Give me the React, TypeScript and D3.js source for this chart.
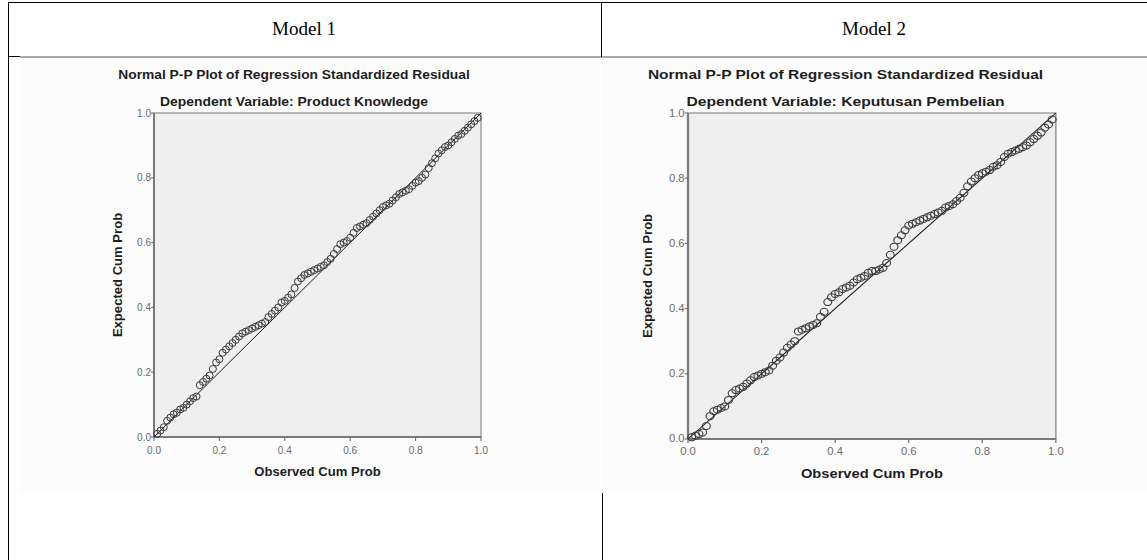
import * as d3 from 'd3';
import React from 'react';

const headers = ['Model 1', 'Model 2'];
const titles = ['Normal P-P Plot of Regression Standardized Residual', 'Normal P-P Plot of Regression Standardized Residual'];
const subtitles = ['Dependent Variable: Product Knowledge', 'Dependent Variable: Keputusan Pembelian'];
const tickValues = [0, 0.2, 0.4, 0.6, 0.8, 1.0];

// model 1 : observed vs expected cumulative prob
const obs1 = [0.01, 0.02, 0.03, 0.04, 0.05, 0.06, 0.07, 0.08, 0.09, 0.1, 0.11, 0.12, 0.13, 0.14, 0.15, 0.16, 0.17, 0.18, 0.19, 0.2,
  0.21, 0.22, 0.23, 0.24, 0.25, 0.26, 0.27, 0.28, 0.29, 0.3, 0.31, 0.32, 0.33, 0.34, 0.35, 0.36, 0.37, 0.38, 0.39, 0.4,
  0.41, 0.42, 0.43, 0.44, 0.45, 0.46, 0.47, 0.48, 0.49, 0.5, 0.51, 0.52, 0.53, 0.54, 0.55, 0.56, 0.57, 0.58, 0.59, 0.6,
  0.61, 0.62, 0.63, 0.64, 0.65, 0.66, 0.67, 0.68, 0.69, 0.7, 0.71, 0.72, 0.73, 0.74, 0.75, 0.76, 0.77, 0.78, 0.79, 0.8,
  0.81, 0.82, 0.83, 0.84, 0.85, 0.86, 0.87, 0.88, 0.89, 0.9, 0.91, 0.92, 0.93, 0.94, 0.95, 0.96, 0.97, 0.98, 0.99];
const exp1 = [0.01, 0.02, 0.03, 0.05, 0.06, 0.07, 0.075, 0.085, 0.09, 0.1, 0.11, 0.12, 0.125, 0.16, 0.17, 0.18, 0.19, 0.21, 0.23, 0.24,
  0.26, 0.27, 0.28, 0.29, 0.3, 0.31, 0.32, 0.325, 0.33, 0.335, 0.34, 0.345, 0.35, 0.355, 0.37, 0.38, 0.39, 0.4, 0.415, 0.42,
  0.43, 0.44, 0.46, 0.48, 0.49, 0.5, 0.505, 0.51, 0.515, 0.52, 0.525, 0.53, 0.54, 0.55, 0.565, 0.58, 0.595, 0.6, 0.605, 0.615,
  0.63, 0.645, 0.65, 0.655, 0.66, 0.67, 0.68, 0.69, 0.7, 0.71, 0.715, 0.72, 0.73, 0.74, 0.75, 0.755, 0.76, 0.765, 0.775, 0.785,
  0.79, 0.8, 0.81, 0.83, 0.845, 0.86, 0.875, 0.885, 0.895, 0.9, 0.91, 0.92, 0.93, 0.935, 0.945, 0.955, 0.965, 0.975, 0.985];

// model 2
const obs2 = [0.01, 0.02, 0.03, 0.04, 0.05, 0.06, 0.07, 0.08, 0.09, 0.1, 0.11, 0.12, 0.13, 0.14, 0.15, 0.16, 0.17, 0.18, 0.19, 0.2,
  0.21, 0.22, 0.23, 0.24, 0.25, 0.26, 0.27, 0.28, 0.29, 0.3, 0.31, 0.32, 0.33, 0.34, 0.35, 0.36, 0.37, 0.38, 0.39, 0.4,
  0.41, 0.42, 0.43, 0.44, 0.45, 0.46, 0.47, 0.48, 0.49, 0.5, 0.51, 0.52, 0.53, 0.54, 0.55, 0.56, 0.57, 0.58, 0.59, 0.6,
  0.61, 0.62, 0.63, 0.64, 0.65, 0.66, 0.67, 0.68, 0.69, 0.7, 0.71, 0.72, 0.73, 0.74, 0.75, 0.76, 0.77, 0.78, 0.79, 0.8,
  0.81, 0.82, 0.83, 0.84, 0.85, 0.86, 0.87, 0.88, 0.89, 0.9, 0.91, 0.92, 0.93, 0.94, 0.95, 0.96, 0.97, 0.98, 0.99];
const exp2 = [0.005, 0.01, 0.015, 0.02, 0.04, 0.07, 0.085, 0.09, 0.095, 0.1, 0.12, 0.14, 0.15, 0.155, 0.16, 0.17, 0.18, 0.19, 0.195, 0.2,
  0.205, 0.21, 0.225, 0.24, 0.25, 0.265, 0.28, 0.29, 0.3, 0.33, 0.335, 0.34, 0.345, 0.35, 0.355, 0.375, 0.39, 0.42, 0.435, 0.445,
  0.45, 0.46, 0.465, 0.47, 0.48, 0.49, 0.495, 0.5, 0.51, 0.515, 0.515, 0.52, 0.525, 0.54, 0.565, 0.59, 0.61, 0.625, 0.64, 0.655,
  0.66, 0.665, 0.67, 0.675, 0.68, 0.685, 0.69, 0.695, 0.7, 0.71, 0.715, 0.72, 0.73, 0.74, 0.755, 0.775, 0.79, 0.8, 0.81, 0.815,
  0.82, 0.825, 0.835, 0.84, 0.85, 0.865, 0.875, 0.88, 0.885, 0.89, 0.895, 0.9, 0.91, 0.92, 0.93, 0.94, 0.955, 0.965, 0.98];

const font = '"Liberation Sans", Arial, sans-serif';

// bold label, a bit wider than plain Arial like the spss export
function Label({ x, y, k, children, rotate = 0 }) {
  return (
    <g transform={`translate(${x},${y}) rotate(${rotate}) scale(${k},1)`}>
      <text textAnchor="middle" fontSize={12} fontWeight="bold" fill="#1e1e1e">{children}</text>
    </g>
  );
}

function PPPlot({ left, top, height, sx, title, subtitle, obs, exp }) {
  const w = 327; // native width, right panel gets stretched by sx
  const x = d3.scaleLinear().domain([0, 1]).range([0, w]);
  const y = d3.scaleLinear().domain([0, 1]).range([height, 0]);
  const fmt = d3.format('.1f');
  const pts = obs.map((o, i) => [o, exp[i]]);

  return (
    <g transform={`translate(${left},${top}) scale(${sx},1)`} fontFamily={font}>
      <Label x={140} y={-34} k={1.15}>{title}</Label>
      <Label x={140} y={-7} k={1.16}>{subtitle}</Label>

      <rect x={0} y={0} width={w} height={height} fill="#efefef" stroke="#8c8c8c" strokeWidth={1.2} />
      <line x1={0} x2={0} y1={0} y2={height} stroke="#7a7a7a" strokeWidth={2} />
      <line x1={0} x2={w} y1={height} y2={height} stroke="#7a7a7a" strokeWidth={2} />

      {tickValues.map((t) => (
        <g key={'y' + t}>
          <line x1={-3} x2={0} y1={y(t)} y2={y(t)} stroke="#666" />
          <text x={-3} y={y(t) + 3.5} textAnchor="end" fontSize={10} fill="#6a6a6a">{fmt(t)}</text>
        </g>
      ))}
      {tickValues.map((t) => (
        <g key={'x' + t}>
          <line x1={x(t)} x2={x(t)} y1={height} y2={height + 4} stroke="#666" />
          <text x={x(t)} y={height + 16.5} textAnchor="middle" fontSize={10} fill="#6a6a6a">{fmt(t)}</text>
        </g>
      ))}

      <line x1={x(0)} y1={y(0)} x2={x(1)} y2={y(1)} stroke="#1a1a1a" strokeWidth={1} />
      {pts.map((p, i) => (
        <circle key={i} cx={x(p[0])} cy={y(p[1])} r={3.5} fill="none" stroke="#3a3a3a" strokeWidth={1} />
      ))}

      <Label x={w / 2} y={height + 39} k={1.09}>Observed Cum Prob</Label>
      <Label x={-32} y={height / 2} k={1.09} rotate={-90}>Expected Cum Prob</Label>
    </g>
  );
}

export default function App() {
  return (
    <svg width={1147} height={560} style={{ position: 'absolute', left: 0, top: 0, display: 'block' }}>
      <rect width={1147} height={560} fill="#fff" />
      {/* pasted images */}
      <rect x={20} y={57} width={580} height={436} fill="#fcfcfc" />
      <rect x={602} y={57} width={545} height={436} fill="#fcfcfc" />
      <line x1={20} x2={1147} y1={57} y2={57} stroke="#8f8f8f" strokeWidth={1.5} />

      {/* table borders */}
      <line x1={8} x2={1147} y1={2.5} y2={2.5} stroke="#000" />
      <line x1={8} x2={20} y1={56.5} y2={56.5} stroke="#000" />
      <line x1={8.5} x2={8.5} y1={2} y2={560} stroke="#000" />
      <line x1={601.5} x2={601.5} y1={2} y2={57} stroke="#000" />
      <line x1={602.5} x2={602.5} y1={493} y2={560} stroke="#000" />

      <text x={304} y={35} textAnchor="middle" fontFamily='"Liberation Serif", "Times New Roman", serif' fontSize={19}>{headers[0]}</text>
      <text x={874} y={35} textAnchor="middle" fontFamily='"Liberation Serif", "Times New Roman", serif' fontSize={19}>{headers[1]}</text>

      <PPPlot left={154} top={113} height={324} sx={1} title={titles[0]} subtitle={subtitles[0]} obs={obs1} exp={exp1} />
      <PPPlot left={688} top={113} height={326} sx={1.125} title={titles[1]} subtitle={subtitles[1]} obs={obs2} exp={exp2} />
    </svg>
  );
}
